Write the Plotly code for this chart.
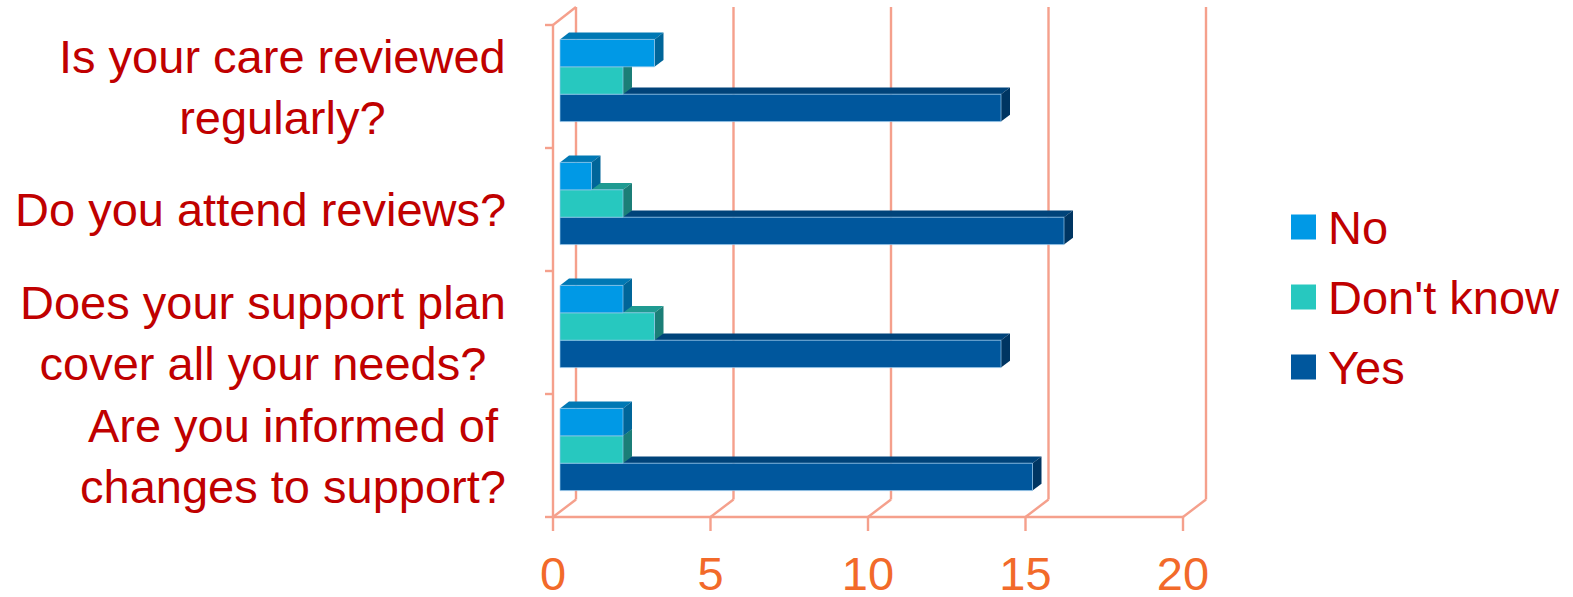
import plotly.graph_objects as go

# ---------------- data ----------------
categories = [
    "Is your care reviewed<br>regularly?",
    "Do you attend reviews?",
    "Does your support plan<br>cover all your needs?",
    "Are you informed of<br>changes to support?",
]
series_names = ["No", "Don't know", "Yes"]
no_vals = [3, 1, 2, 2]
dontknow_vals = [2, 2, 3, 2]
yes_vals = [14, 16, 14, 15]
x_ticks = [0, 5, 10, 15, 20]

# ---------------- styling / geometry ----------------
W, H = 1573, 597
FONT = "Liberation Sans, Arial, sans-serif"
TXT_RED = "#C00000"
TICK_ORANGE = "#F26A2A"
GRID = "#F5A08C"

front = {"No": "#0099E6", "Don't know": "#27C8BF", "Yes": "#00579D"}
topc = {"No": "#0078B4", "Don't know": "#1F9B92", "Yes": "#00437A"}
sidec = {"No": "#006599", "Don't know": "#1B7E77", "Yes": "#003562"}

X0PX, UX = 553.0, 31.5       # pixel of x=0 on front plane, px per unit
YTOPPX, UY = 25.0, 123.0     # pixel of top of front plane, px per category
L_PX, R_PX, T_PX, B_PX = 538, 1215, 2, 535
n = len(categories)


def xd(px):
    return (px - X0PX) / UX


def yd(py):
    return (n - 0.5) - (py - YTOPPX) / UY


def dxu(p):
    return p / UX


def dyu(p):
    return p / UY


def paper_x(px):
    return (px - L_PX) / (R_PX - L_PX)


def paper_y(py):
    return (B_PX - py) / (B_PX - T_PX)


# 3D geometry
WALL_DX, WALL_DY = 23.0, 17.5    # back-plane offset (px)
BAR_X0 = 7.0                      # front face offset in px
BAR_SHIFT = 6.0                   # group shifted up (px)
BAR_H = 27.4                      # bar front face height (px)
DEP_DX, DEP_DY = 9.0, 6.8        # bar depth (px)

ycs = [n - 1 - i for i in range(n)]
base = dxu(BAR_X0)
h = dyu(BAR_H)
s = dyu(BAR_SHIFT)
ddx, ddy = dxu(DEP_DX), dyu(DEP_DY)

series = [("No", no_vals, s + 0.5 * h), ("Don't know", dontknow_vals, s - 0.5 * h),
          ("Yes", yes_vals, s - 1.5 * h)]

fig = go.Figure()
shapes = []
line = dict(color=GRID, width=2.4)

# walls and gridlines
bx, by = dxu(WALL_DX), dyu(WALL_DY)
ybot, ytop = -0.5, n - 0.5
for k in x_ticks:
    shapes.append(dict(type="line", xref="x", yref="y", x0=k + bx, x1=k + bx,
                       y0=ybot + by, y1=ytop + dyu(18), line=line, layer="below"))
    shapes.append(dict(type="line", xref="x", yref="y", x0=k, x1=k + bx,
                       y0=ybot, y1=ybot + by, line=line, layer="below"))
    shapes.append(dict(type="line", xref="x", yref="y", x0=k, x1=k,
                       y0=ybot, y1=ybot - dyu(14), line=line, layer="below"))
# left wall
shapes.append(dict(type="line", xref="x", yref="y", x0=0, x1=0, y0=ybot, y1=ytop,
                   line=line, layer="below"))
shapes.append(dict(type="line", xref="x", yref="y", x0=0, x1=bx, y0=ytop,
                   y1=ytop + dyu(18), line=line, layer="below"))
for j in range(n + 1):
    shapes.append(dict(type="line", xref="x", yref="y", x0=-dxu(8), x1=0,
                       y0=ybot + j, y1=ybot + j, line=line, layer="below"))
# floor front line
shapes.append(dict(type="line", xref="x", yref="y", x0=0, x1=x_ticks[-1],
                   y0=ybot, y1=ybot, line=line, layer="below"))

# bar depth faces (drawn Yes first, then Don't know, then No)
for name, vals, off in reversed(series):
    for yc, v in zip(ycs, vals):
        x1 = base + v
        yb = yc + off
        yt = yb + h
        top_path = (f"M{base},{yt} L{x1},{yt} L{x1 + ddx},{yt + ddy} "
                    f"L{base + ddx},{yt + ddy} Z")
        side_path = (f"M{x1},{yb} L{x1},{yt} L{x1 + ddx},{yt + ddy} "
                     f"L{x1 + ddx},{yb + ddy} Z")
        shapes.append(dict(type="path", xref="x", yref="y", path=top_path,
                           fillcolor=topc[name], line=dict(width=0), layer="below"))
        shapes.append(dict(type="path", xref="x", yref="y", path=side_path,
                           fillcolor=sidec[name], line=dict(width=0), layer="below"))

# front faces as bars
for name, vals, off in reversed(series):
    fig.add_trace(go.Bar(
        name=name, orientation="h", x=vals, y=ycs, base=base,
        offset=off, width=h,
        marker=dict(color=front[name], line=dict(color="rgba(150,200,235,0.7)", width=1)),
        showlegend=False,
    ))

# manual legend
legend_rows = [227, 297, 367]
annotations = []
for name, py in zip(series_names, legend_rows):
    shapes.append(dict(type="rect", xref="paper", yref="paper",
                       x0=paper_x(1291), x1=paper_x(1316),
                       y0=paper_y(py + 12.5), y1=paper_y(py - 12.5),
                       fillcolor=front[name], line=dict(width=0)))
    annotations.append(dict(x=paper_x(1326), y=paper_y(py), xref="paper", yref="paper",
                            text=name, showarrow=False, xanchor="left", yanchor="middle",
                            font=dict(family=FONT, size=47, color=TXT_RED)))

# category labels
for yc, cat in zip(ycs, categories):
    annotations.append(dict(x=paper_x(508), y=yc, xref="paper", yref="y", text=cat,
                            showarrow=False, xanchor="right", yanchor="middle",
                            align="center",
                            font=dict(family=FONT, size=47, color=TXT_RED)))

fig.update_layout(
    width=W, height=H,
    margin=dict(l=L_PX, r=W - R_PX, t=T_PX, b=H - B_PX, pad=0, autoexpand=False),
    paper_bgcolor="white", plot_bgcolor="white",
    barmode="overlay",
    shapes=shapes, annotations=annotations,
    showlegend=False,
    xaxis=dict(range=[xd(L_PX), xd(R_PX)], tickvals=x_ticks, showgrid=False,
               zeroline=False, showline=False, ticks="", automargin=False,
               tickfont=dict(family=FONT, size=47, color=TICK_ORANGE),
               ticklabelstandoff=7, fixedrange=True),
    yaxis=dict(range=[yd(B_PX), yd(T_PX)], showticklabels=False, showgrid=False,
               zeroline=False, showline=False, ticks="", automargin=False,
               fixedrange=True),
)

fig.write_html("out.html")
